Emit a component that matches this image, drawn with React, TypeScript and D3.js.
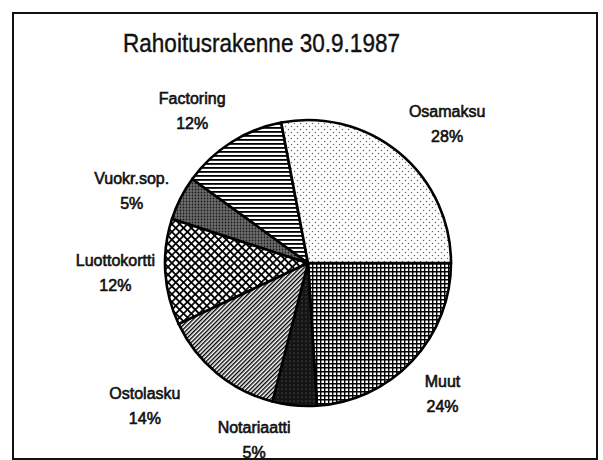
import React, { useEffect, useRef } from 'react';
import * as d3 from 'd3';

// data, clockwise from 3 o'clock
const labels = ['Muut', 'Notariaatti', 'Ostolasku', 'Luottokortti', 'Vuokr.sop.', 'Factoring', 'Osamaksu'];
const shares = [24, 5, 14, 12, 5, 12, 28];
const title = 'Rahoitusrakenne 30.9.1987';

// fill pattern per slice
const patternIds = ['grid', 'black', 'diag', 'cross', 'stipple', 'hlines', 'dots'];
// hand placement of the labels, offset from the label-arc centroid
const labelNudge = [[-4, 0], [-36, -13], [-42, -4], [-3, -2], [-7, 14], [-14, 8], [18, 7]];

const W = 603;
const H = 460;
const cx = 308;
const cy = 263;
const R = 143;
const font = '"Liberation Sans", Arial, Helvetica, sans-serif';

const App = () => {
  const svgRef = useRef<SVGSVGElement>(null);

  useEffect(() => {
    const svg = d3.select(svgRef.current)
      .attr('width', W)
      .attr('height', H);

    svg.selectAll('*').remove();

    const defs = svg.append('defs');
    const pat = (id: string, w: number, h: number, bg: string, transform?: string) => {
      const p = defs.append('pattern')
        .attr('id', id)
        .attr('patternUnits', 'userSpaceOnUse')
        .attr('width', w)
        .attr('height', h);
      if (transform) p.attr('patternTransform', transform);
      p.append('rect').attr('width', w).attr('height', h).attr('fill', bg);
      return p;
    };

    // Muut: square grid
    pat('grid', 4, 4, '#fff')
      .append('path').attr('d', 'M0 0.7H4M0.7 0V4').attr('stroke', '#000').attr('stroke-width', 1.4);
    // Notariaatti: nearly black
    pat('black', 4, 4, '#151515')
      .append('circle').attr('cx', 2).attr('cy', 2).attr('r', 0.6).attr('fill', '#777');
    // Ostolasku: fine "/" hatch
    pat('diag', 3, 3, '#fff', 'rotate(45)')
      .append('rect').attr('width', 1.4).attr('height', 3).attr('fill', '#000');
    // Luottokortti: diagonal crosshatch
    pat('cross', 5.5, 5.5, '#fff', 'rotate(45)')
      .append('path').attr('d', 'M0 2.75H5.5M2.75 0V5.5').attr('stroke', '#000').attr('stroke-width', 1.7);
    // Vuokr.sop.: dark stipple
    pat('stipple', 3, 3, '#6e6e6e')
      .append('circle').attr('cx', 1.5).attr('cy', 1.5).attr('r', 0.9).attr('fill', '#1a1a1a');
    // Factoring: horizontal lines
    pat('hlines', 4, 4, '#fff')
      .append('rect').attr('width', 4).attr('height', 1.8).attr('fill', '#000');
    // Osamaksu: light dots
    const dots = pat('dots', 6, 6, '#fff');
    dots.append('circle').attr('cx', 1.5).attr('cy', 1.5).attr('r', 0.75).attr('fill', '#666');
    dots.append('circle').attr('cx', 4.5).attr('cy', 4.5).attr('r', 0.75).attr('fill', '#666');

    svg.append('rect')
      .attr('width', W).attr('height', H).attr('fill', '#fff');

    // frame
    svg.append('rect')
      .attr('x', 13).attr('y', 13)
      .attr('width', 584).attr('height', 446)
      .attr('fill', 'none')
      .attr('stroke', '#111')
      .attr('stroke-width', 2);

    svg.append('text')
      .attr('x', 261.5)
      .attr('y', 52)
      .attr('text-anchor', 'middle')
      .attr('font-family', font)
      .attr('font-size', 25)
      .attr('textLength', 277)
      .attr('lengthAdjust', 'spacingAndGlyphs')
      .attr('fill', '#111')
      .attr('stroke', '#111')
      .attr('stroke-width', 0.4)
      .text(title);

    const pie = d3.pie<number>()
      .sort(null)
      .startAngle(Math.PI / 2)
      .endAngle(Math.PI / 2 + 2 * Math.PI);
    const arcs = pie(shares);

    const arc = d3.arc<d3.PieArcDatum<number>>().innerRadius(0).outerRadius(R);
    const labelArc = d3.arc<d3.PieArcDatum<number>>().innerRadius(190).outerRadius(190);

    const g = svg.append('g').attr('transform', `translate(${cx},${cy})`);

    g.selectAll('.slice')
      .data(arcs)
      .enter()
      .append('path')
      .attr('class', 'slice')
      .attr('d', arc)
      .attr('fill', (d, i) => `url(#${patternIds[i]})`)
      .attr('stroke', '#000')
      .attr('stroke-width', 2.6)
      .attr('stroke-linejoin', 'round');

    const lab = g.selectAll('.label')
      .data(arcs)
      .enter()
      .append('g')
      .attr('class', 'label')
      .attr('transform', (d, i) => {
        const [x, y] = labelArc.centroid(d);
        return `translate(${x + labelNudge[i][0]},${y + labelNudge[i][1]})`;
      })
      .attr('font-family', font)
      .attr('font-size', 16)
      .attr('text-anchor', 'middle')
      .attr('fill', '#111')
      .attr('stroke', '#111')
      .attr('stroke-width', 0.6);

    lab.append('text')
      .attr('y', -6.5)
      .text((d, i) => labels[i]);

    lab.append('text')
      .attr('y', 18.5)
      .text(d => `${d.data}%`);
  }, []);

  return <svg ref={svgRef} style={{ position: 'absolute', left: 0, top: 0, display: 'block' }}></svg>;
};

export default App;
